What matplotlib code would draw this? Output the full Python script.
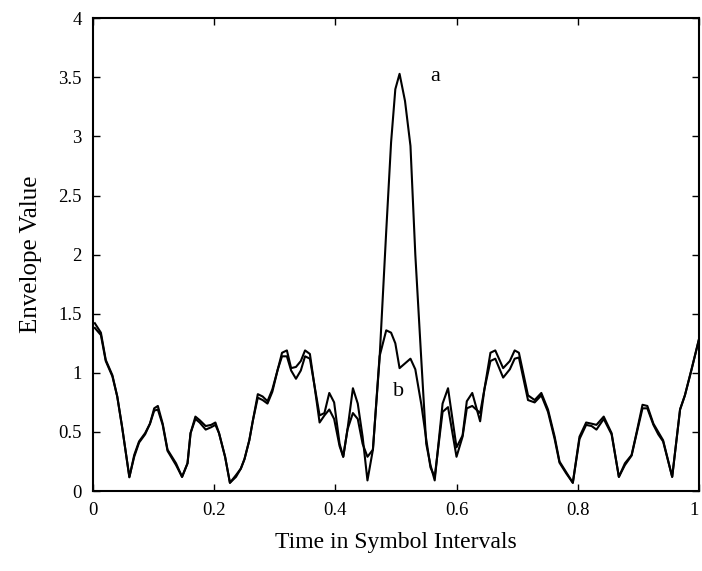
import numpy as np
import matplotlib.pyplot as plt

plt.rcParams['font.family'] = ['Liberation Serif', 'DejaVu Serif']

# sample times (symbol intervals) shared by both envelopes
t = [0.003, 0.013, 0.021, 0.032, 0.040, 0.048, 0.060, 0.068, 0.076, 0.086,
     0.094, 0.101, 0.107, 0.115, 0.123, 0.137, 0.147, 0.156, 0.161, 0.169,
     0.176, 0.186, 0.195, 0.202, 0.208, 0.218, 0.226, 0.236, 0.244, 0.250,
     0.258, 0.264, 0.272, 0.280, 0.288, 0.296, 0.305, 0.312, 0.320, 0.327,
     0.335, 0.343, 0.350, 0.358, 0.365, 0.374, 0.382, 0.390, 0.398, 0.407,
     0.413, 0.420, 0.429, 0.437, 0.445, 0.453, 0.462, 0.473, 0.484, 0.492,
     0.499, 0.506, 0.515, 0.524, 0.532, 0.542, 0.550, 0.557, 0.564, 0.577,
     0.586, 0.600, 0.610, 0.617, 0.626, 0.639, 0.646, 0.656, 0.664, 0.677,
     0.688, 0.696, 0.703, 0.718, 0.729, 0.740, 0.751, 0.762, 0.770, 0.781,
     0.792, 0.803, 0.814, 0.823, 0.831, 0.843, 0.856, 0.868, 0.878, 0.889,
     0.897, 0.907, 0.915, 0.925, 0.933, 0.941, 0.956, 0.969, 0.977, 0.988,
     1.000]

# curve a (with the big peak)
env_a = [1.42, 1.34, 1.11, 0.98, 0.80, 0.545, 0.116, 0.305, 0.42, 0.49,
         0.57, 0.70, 0.72, 0.57, 0.35, 0.235, 0.12, 0.235, 0.49, 0.63,
         0.60, 0.55, 0.56, 0.58, 0.49, 0.29, 0.07, 0.135, 0.19, 0.27,
         0.43, 0.60, 0.82, 0.80, 0.76, 0.86, 1.03, 1.17, 1.19, 1.04,
         1.05, 1.10, 1.19, 1.16, 0.91, 0.64, 0.66, 0.83, 0.75, 0.40,
         0.29, 0.52, 0.87, 0.74, 0.46, 0.09, 0.35, 1.12, 2.20, 2.95,
         3.40, 3.53, 3.30, 2.92, 2.00, 1.10, 0.40, 0.22, 0.09, 0.74,
         0.87, 0.37, 0.47, 0.76, 0.83, 0.59, 0.86, 1.17, 1.19, 1.04,
         1.10, 1.19, 1.17, 0.81, 0.77, 0.83, 0.69, 0.46, 0.25, 0.16,
         0.07, 0.46, 0.58, 0.57, 0.56, 0.63, 0.49, 0.12, 0.235, 0.305,
         0.49, 0.73, 0.72, 0.57, 0.50, 0.43, 0.12, 0.69, 0.81, 1.03,
         1.28]

# curve b
env_b = [1.38, 1.32, 1.10, 0.97, 0.80, 0.54, 0.12, 0.29, 0.41, 0.48,
         0.57, 0.68, 0.69, 0.56, 0.34, 0.22, 0.12, 0.235, 0.49, 0.61,
         0.58, 0.52, 0.54, 0.56, 0.49, 0.29, 0.07, 0.12, 0.19, 0.27,
         0.43, 0.60, 0.79, 0.77, 0.74, 0.84, 1.03, 1.14, 1.14, 1.02,
         0.95, 1.02, 1.14, 1.12, 0.91, 0.58, 0.64, 0.69, 0.61, 0.38,
         0.29, 0.52, 0.66, 0.61, 0.40, 0.29, 0.35, 1.14, 1.36, 1.34,
         1.25, 1.04, 1.08, 1.12, 1.03, 0.73, 0.44, 0.20, 0.12, 0.67,
         0.71, 0.29, 0.46, 0.70, 0.72, 0.66, 0.86, 1.10, 1.12, 0.96,
         1.03, 1.12, 1.13, 0.77, 0.75, 0.81, 0.67, 0.44, 0.24, 0.15,
         0.07, 0.44, 0.56, 0.55, 0.52, 0.61, 0.48, 0.12, 0.22, 0.30,
         0.48, 0.70, 0.70, 0.56, 0.48, 0.42, 0.12, 0.69, 0.81, 1.03,
         1.28]

xticks = [0, 0.2, 0.4, 0.6, 0.8, 1]
xticklabels = ['0', '0.2', '0.4', '0.6', '0.8', '1']
yticks = [0, 0.5, 1, 1.5, 2, 2.5, 3, 3.5, 4]
yticklabels = ['0', '0.5', '1', '1.5', '2', '2.5', '3', '3.5', '4']

fig = plt.figure(figsize=(7.02, 5.71), dpi=100)
ax = fig.add_axes([0.1325, 0.14, 0.863, 0.828])

ax.plot(t, env_a, color='black', lw=1.5)
ax.plot(t, env_b, color='black', lw=1.5)

ax.text(0.565, 3.51, 'a', fontsize=16, ha='center', va='center')
ax.text(0.504, 0.84, 'b', fontsize=16, ha='center', va='center')

ax.set_xlim(0, 1)
ax.set_ylim(0, 4)
ax.set_xticks(xticks)
ax.set_xticklabels(xticklabels)
ax.set_yticks(yticks)
ax.set_yticklabels(yticklabels)
ax.tick_params(direction='in', top=True, right=True, labelsize=13.5,
               length=5, width=1, pad=8)
ax.get_xticklabels()[-1].set_horizontalalignment('right')
for s in ax.spines.values():
    s.set_linewidth(1.5)

ax.set_xlabel('Time in Symbol Intervals', fontsize=17, labelpad=9)
ax.set_ylabel('Envelope Value', fontsize=18, labelpad=12)

fig.savefig('out.png', dpi=100)
